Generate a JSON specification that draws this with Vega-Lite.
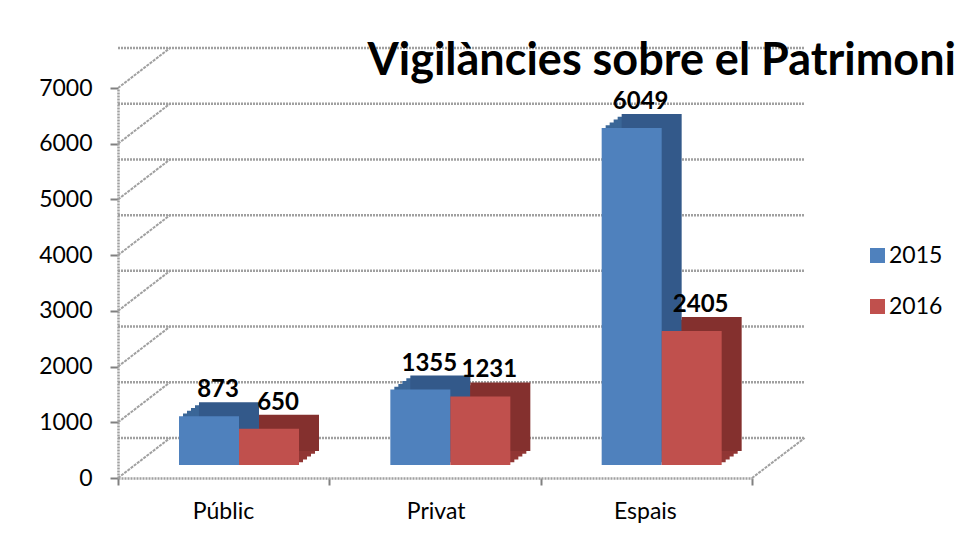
{
  "$schema": "https://vega.github.io/schema/vega-lite/v6.json",
  "width": 634,
  "height": 390,
  "autosize": {"type": "none"},
  "padding": {"left": 118, "top": 88, "right": 211, "bottom": 62},
  "background": "white",
  "config": {"view": {"stroke": null}, "font": "Lato"},
  "title": {
    "text": "Vigilàncies sobre el Patrimoni",
    "anchor": "end",
    "frame": "group",
    "font": "Lato",
    "fontSize": 45,
    "fontWeight": "bold",
    "color": "#000000",
    "offset": 4,
    "dx": 204,
    "dy": 41
  },
  "resolve": {"scale": {"xOffset": "independent"}},
  "datasets": {
    "bars": [
      {"cat": "Públic", "year": "2015", "value": 873},
      {"cat": "Públic", "year": "2016", "value": 650},
      {"cat": "Privat", "year": "2015", "value": 1355},
      {"cat": "Privat", "year": "2016", "value": 1231},
      {"cat": "Espais", "year": "2015", "value": 6049},
      {"cat": "Espais", "year": "2016", "value": 2405}
    ],
    "grid": [
      {"v": 0}, {"v": 1000}, {"v": 2000}, {"v": 3000},
      {"v": 4000}, {"v": 5000}, {"v": 6000}, {"v": 7000}
    ]
  },
  "layer": [
    {
      "data": {"name": "grid"},
      "mark": {"type": "rule", "color": "#A0A0A0", "strokeWidth": 2.5, "strokeDash": [2, 1], "xOffset": 52, "x2Offset": 52, "yOffset": -40},
      "encoding": {
        "y": {"field": "v", "type": "quantitative", "scale": {"domain": [0, 7000], "nice": false}}
      }
    },
    {
      "data": {"name": "grid"},
      "mark": {"type": "rule", "color": "#A0A0A0", "strokeWidth": 2, "strokeDash": [3, 1], "x2Offset": -53.67, "y2Offset": -40},
      "encoding": {
        "x": {"datum": "Públic", "type": "nominal", "bandPosition": 0},
        "x2": {"datum": "Públic"},
        "y": {"field": "v", "type": "quantitative"},
        "y2": {"field": "v"}
      }
    },
    {
      "data": {"name": "grid"},
      "transform": [{"filter": "datum.v === 0"}],
      "mark": {"type": "rule", "color": "#A0A0A0", "strokeWidth": 2, "strokeDash": [3, 1], "x2Offset": 158.3, "y2Offset": -40},
      "encoding": {
        "x": {"datum": "Espais", "type": "nominal", "bandPosition": 1},
        "x2": {"datum": "Espais"},
        "y": {"field": "v", "type": "quantitative"},
        "y2": {"field": "v"}
      }
    },
    {
      "data": {"name": "bars"},
      "mark": {"type": "bar", "yOffset": -15.8, "y2Offset": -15.8},
      "encoding": {
        "x": {"field": "cat", "type": "nominal"},
        "xOffset": {"field": "year", "type": "nominal", "scale": {"paddingInner": 0, "paddingOuter": 0.761, "align": 0.7117}},
        "y": {"field": "value", "type": "quantitative"},
        "fill": {"condition": {"test": "datum.year === '2015'", "value": "#3A6697"}, "value": "#913634"}
      }
    },
    {
      "data": {"name": "bars"},
      "mark": {"type": "bar", "yOffset": -18.6, "y2Offset": -18.6},
      "encoding": {
        "x": {"field": "cat", "type": "nominal"},
        "xOffset": {"field": "year", "type": "nominal", "scale": {"paddingInner": 0, "paddingOuter": 0.761, "align": 0.7555}},
        "y": {"field": "value", "type": "quantitative"},
        "fill": {"condition": {"test": "datum.year === '2015'", "value": "#3A6697"}, "value": "#913634"}
      }
    },
    {
      "data": {"name": "bars"},
      "mark": {"type": "bar", "yOffset": -21.4, "y2Offset": -21.4},
      "encoding": {
        "x": {"field": "cat", "type": "nominal"},
        "xOffset": {"field": "year", "type": "nominal", "scale": {"paddingInner": 0, "paddingOuter": 0.761, "align": 0.7993}},
        "y": {"field": "value", "type": "quantitative"},
        "fill": {"condition": {"test": "datum.year === '2015'", "value": "#3A6697"}, "value": "#913634"}
      }
    },
    {
      "data": {"name": "bars"},
      "mark": {"type": "bar", "yOffset": -24.2, "y2Offset": -24.2},
      "encoding": {
        "x": {"field": "cat", "type": "nominal"},
        "xOffset": {"field": "year", "type": "nominal", "scale": {"paddingInner": 0, "paddingOuter": 0.761, "align": 0.8431}},
        "y": {"field": "value", "type": "quantitative"},
        "fill": {"condition": {"test": "datum.year === '2015'", "value": "#3A6697"}, "value": "#913634"}
      }
    },
    {
      "data": {"name": "bars"},
      "mark": {"type": "bar", "yOffset": -27, "y2Offset": -27},
      "encoding": {
        "x": {"field": "cat", "type": "nominal"},
        "xOffset": {"field": "year", "type": "nominal", "scale": {"paddingInner": 0, "paddingOuter": 0.761, "align": 0.8869}},
        "y": {"field": "value", "type": "quantitative"},
        "fill": {"condition": {"test": "datum.year === '2015'", "value": "#33598A"}, "value": "#84302E"}
      }
    },
    {
      "data": {"name": "bars"},
      "mark": {"type": "bar", "yOffset": -13, "y2Offset": -13},
      "encoding": {
        "x": {
          "field": "cat",
          "type": "nominal",
          "scale": {"domain": ["Públic", "Privat", "Espais"], "paddingInner": 0, "paddingOuter": 0},
          "axis": {
            "title": null,
            "labelAngle": 0,
            "tickBand": "extent",
            "tickSize": 7,
            "tickWidth": 2,
            "tickColor": "#808080",
            "domainColor": "#A0A0A0",
            "domainWidth": 2.5,
            "domainDash": [2, 1],
            "labelFont": "Lato",
            "labelFontSize": 23,
            "labelColor": "#000000",
            "labelPadding": 26,
            "labelOffset": 30
          }
        },
        "xOffset": {"field": "year", "type": "nominal", "scale": {"paddingInner": 0, "paddingOuter": 0.761, "align": 0.668}},
        "y": {
          "field": "value",
          "type": "quantitative",
          "axis": {
            "title": null,
            "values": [0, 1000, 2000, 3000, 4000, 5000, 6000, 7000],
            "format": "d",
            "grid": false,
            "tickSize": 8,
            "tickWidth": 2,
            "tickColor": "#808080",
            "domainColor": "#A0A0A0",
            "domainWidth": 2.5,
            "domainDash": [2, 1],
            "labelFont": "Lato",
            "labelFontSize": 23,
            "labelColor": "#000000",
            "labelPadding": 18
          }
        },
        "color": {
          "field": "year",
          "type": "nominal",
          "scale": {"domain": ["2015", "2016"], "range": ["#4F81BD", "#C0504D"]},
          "legend": {
            "title": null,
            "orient": "none",
            "legendX": 748,
            "legendY": 156,
            "symbolType": "square",
            "symbolSize": 225,
            "symbolStrokeWidth": 0,
            "labelFont": "Lato",
            "labelFontSize": 23,
            "labelColor": "#000000",
            "labelOffset": 0,
            "rowPadding": 27
          }
        }
      }
    },
    {
      "data": {"name": "bars"},
      "mark": {"type": "text", "font": "Lato", "fontSize": 24, "fontWeight": "bold", "color": "#000000", "baseline": "alphabetic", "align": "center", "dx": 9, "dy": -32},
      "encoding": {
        "x": {"field": "cat", "type": "nominal"},
        "xOffset": {"field": "year", "type": "nominal", "scale": {"type": "band", "paddingInner": 0, "paddingOuter": 0.761, "align": 0.668}},
        "y": {"field": "value", "type": "quantitative"},
        "text": {"field": "value", "type": "quantitative", "format": "d"}
      }
    }
  ]
}
